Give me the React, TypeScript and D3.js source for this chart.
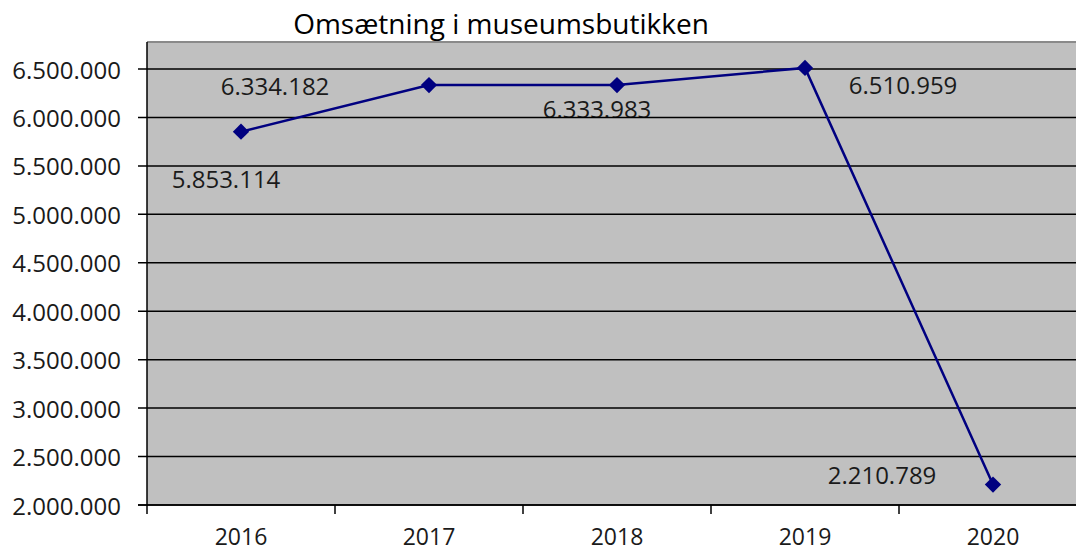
import React from "react";
import * as d3 from "d3";

const years = ["2016", "2017", "2018", "2019", "2020"];
const revenue = [5853114, 6334182, 6333983, 6510959, 2210789];
const yTicks = [2000000, 2500000, 3000000, 3500000, 4000000, 4500000, 5000000, 5500000, 6000000, 6500000];
const title = "Omsætning i museumsbutikken";
// label offsets (layout, relative to point)
const labelDx = [-15, -154, -20, 98, -111];
const labelDy = [47, 0, 23, 17, -10];

const W = 1076, H = 551;
const left = 147, right = 1087, top = 42, bottom = 505;
const FONT = "'Open Sans', sans-serif";

const fmt = (v: number) => d3.format(",")(v).replace(/,/g, ".");

export default function App() {
  const x = d3.scaleBand<string>().domain(years).range([left, right]).padding(0);
  const y = d3.scaleLinear().domain([2000000, 6500000]).range([bottom, 69]);
  const cx = (i: number) => (x(years[i]) as number) + x.bandwidth() / 2;
  const line = d3.line<number>().x((_, i) => cx(i)).y((d) => y(d));
  const diamond = d3.symbol().type(d3.symbolDiamond2).size(170)();
  const boundaries = d3.range(years.length + 1).map((i) => left + i * x.bandwidth());

  return (
    <svg width={W} height={H} style={{ position: "absolute", left: 0, top: 0, background: "#fff" }}>
      <rect x={left} y={top} width={right - left} height={bottom - top} fill="#c0c0c0" />
      <line x1={left} x2={right} y1={top} y2={top} stroke="#8a8a8a" strokeWidth={2} />
      <text x={501} y={34} textAnchor="middle" fontFamily={FONT} fontSize={28} fill="#000">
        {title}
      </text>
      {/* data labels (drawn beneath grid) */}
      {revenue.map((v, i) => (
        <text key={"l" + i} x={cx(i) + labelDx[i]} y={y(v) + labelDy[i]} textAnchor="middle" dominantBaseline="central"
          fontFamily={FONT} fontSize={24} fill="#1a1a1a">
          {fmt(v)}
        </text>
      ))}
      {yTicks.map((t) => (
        <g key={t}>
          <line x1={left - 9} x2={right} y1={y(t)} y2={y(t)} stroke="#000" strokeWidth={1.5} />
          <text x={121} y={y(t)} textAnchor="end" dominantBaseline="central" fontFamily={FONT} fontSize={24} fill="#1a1a1a">
            {fmt(t)}
          </text>
        </g>
      ))}
      {boundaries.map((b, i) => (
        <line key={"b" + i} x1={b} x2={b} y1={bottom} y2={bottom + 9} stroke="#000" strokeWidth={1.5} />
      ))}
      <line x1={left} x2={left} y1={top} y2={bottom + 1} stroke="#000" strokeWidth={1.5} />
      <line x1={left - 9} x2={right} y1={bottom} y2={bottom} stroke="#000" strokeWidth={1.5} />
      {years.map((yr, i) => (
        <text key={yr} x={cx(i)} y={545} textAnchor="middle" fontFamily={FONT} fontSize={23} fill="#1a1a1a">
          {yr}
        </text>
      ))}
      <path d={line(revenue) as string} fill="none" stroke="#000080" strokeWidth={2.5} />
      {revenue.map((v, i) => (
        <path key={"m" + i} d={diamond as string} transform={`translate(${cx(i)},${y(v)})`} fill="#000080" />
      ))}
    </svg>
  );
}
